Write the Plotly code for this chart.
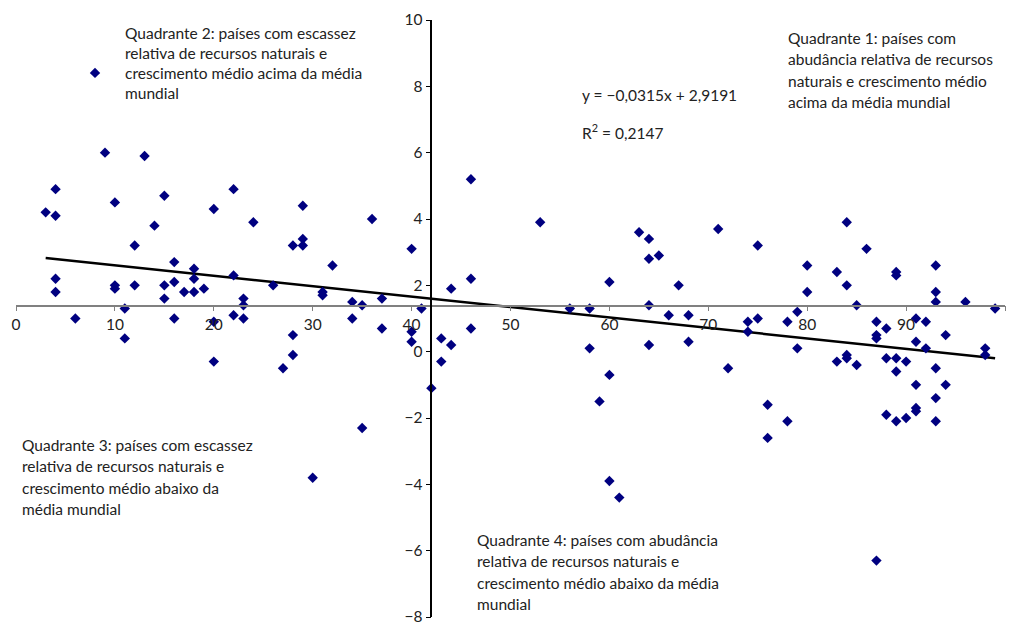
import plotly.graph_objects as go

# Data: x = relative natural-resource abundance index, y = average growth
x_vals = [3, 4, 4, 4, 4, 6, 9, 10, 10, 10, 11, 11, 12, 12, 13, 14, 15, 15, 15,
          16, 16, 16, 17, 18, 18, 18, 19, 20, 20, 20, 22, 22, 22, 23, 23, 23, 24,
          26, 27, 28, 28, 28, 29, 29, 29, 30, 31, 31, 32, 34, 34, 35, 35, 36, 37,
          37, 40, 40, 40, 41, 42, 43, 43, 44, 44, 46, 46, 46, 53, 56, 58, 58, 59,
          60, 60, 60, 61, 63, 64, 64, 64, 64, 65, 66, 67, 68, 68, 71, 72, 74, 74,
          75, 75, 76, 76, 78, 78, 79, 79, 80, 80, 83, 83, 84, 84, 84, 84, 85, 85,
          86, 87, 87, 87, 87, 88, 88, 88, 89, 89, 89, 89, 89, 90, 90, 91, 91, 91,
          91, 91, 92, 92, 93, 93, 93, 93, 93, 93, 94, 94, 96, 98, 98, 99]
y_vals = [4.2, 4.9, 4.1, 2.2, 1.8, 1.0, 6.0, 4.5, 2.0, 1.9, 1.3, 0.4, 3.2, 2.0, 5.9,
          3.8, 4.7, 2.0, 1.6, 2.7, 2.1, 1.0, 1.8, 2.5, 2.2, 1.8, 1.9, 4.3, 0.9, -0.3,
          4.9, 2.3, 1.1, 1.6, 1.4, 1.0, 3.9, 2.0, -0.5, 3.2, 0.5, -0.1, 4.4, 3.4, 3.2,
          -3.8, 1.8, 1.7, 2.6, 1.5, 1.0, 1.4, -2.3, 4.0, 1.6, 0.7, 3.1, 0.6, 0.3, 1.3,
          -1.1, 0.4, -0.3, 1.9, 0.2, 5.2, 2.2, 0.7, 3.9, 1.3, 1.3, 0.1, -1.5, 2.1, -0.7,
          -3.9, -4.4, 3.6, 3.4, 2.8, 1.4, 0.2, 2.9, 1.1, 2.0, 1.1, 0.3, 3.7, -0.5, 0.9,
          0.6, 3.2, 1.0, -1.6, -2.6, 0.9, -2.1, 1.2, 0.1, 2.6, 1.8, 2.4, -0.3, 3.9, 2.0,
          -0.1, -0.2, 1.4, -0.4, 3.1, 0.9, 0.5, 0.4, -6.3, 0.7, -0.2, -1.9, 2.4, 2.3,
          -0.2, -0.6, -2.1, -0.3, -2.0, 1.0, 0.3, -1.0, -1.7, -1.8, 0.9, 0.1, 2.6, 1.8,
          1.5, -0.5, -1.4, -2.1, 0.5, -1.0, 1.5, 0.1, -0.1, 1.3]

# Linear trend shown on the chart
slope = -0.0315
intercept = 2.9191
trend_x = [min(x_vals), max(x_vals)]
trend_y = [slope * v + intercept for v in trend_x]

# Axis crossing points (y axis at x=42, x axis at world average growth)
x_cross = 42
y_cross = 1.39
x_range = [0, 100]
y_range = [-8, 10]

legend_lines = ["Quadrante 2: países com escassez", "relativa de recursos naturais e",
                "crescimento médio acima da média", "mundial"]
q1_lines = ["Quadrante 1: países com", "abudância relativa de recursos",
            "naturais e crescimento médio", "acima da média mundial"]
q3_lines = ["Quadrante 3: países com escassez", "relativa de recursos naturais e",
            "crescimento médio abaixo da", "média mundial"]
q4_lines = ["Quadrante 4: países com abudância", "relativa de recursos naturais e",
            "crescimento médio abaixo da média", "mundial"]
eq_text = "y = −0,0315x + 2,9191"
r2_text = "R<sup>2</sup> = 0,2147"

FONT = "Lato"
TXT = "#222222"
FS = 15.5

W, H = 1015, 626
ML, MR, MT, MB = 16, 10, 20, 9
PW, PH = W - ML - MR, H - MT - MB


def px_to_paper(px, py):
    return (px - ML) / PW, (H - MB - py) / PH


LINE_STEP = 21.4
annotations = []


def add_block(lines, left, first_center):
    for i, line in enumerate(lines):
        xp, yp = px_to_paper(left, first_center + i * LINE_STEP)
        annotations.append(dict(text=line, xref="paper", yref="paper", x=xp, y=yp,
                                xanchor="left", yanchor="middle", align="left",
                                showarrow=False))


add_block(q1_lines, 786, 38)
add_block(q3_lines, 20, 445)
add_block(q4_lines, 475, 540)
add_block([eq_text], 580, 95)
add_block([r2_text], 580, 131)

fig = go.Figure()
fig.add_trace(go.Scatter(
    x=trend_x, y=trend_y, mode="lines",
    line=dict(color="black", width=2.5), showlegend=False, hoverinfo="skip"))
# trailing blank line lowers the legend symbol like in the reference
fig.add_trace(go.Scatter(
    x=x_vals, y=y_vals, mode="markers", name="<br>".join(legend_lines + [" "]),
    marker=dict(symbol="diamond", size=8, color="#000080"), showlegend=True))

leg_x, leg_y = px_to_paper(65, 16)
fig.update_layout(
    width=W, height=H,
    margin=dict(l=ML, r=MR, t=MT, b=MB),
    paper_bgcolor="white", plot_bgcolor="white",
    font=dict(family=FONT, size=FS, color=TXT),
    legend=dict(x=leg_x, y=leg_y, xanchor="left", yanchor="top",
                bgcolor="rgba(0,0,0,0)", font=dict(family=FONT, size=FS, color=TXT),
                valign="middle", itemwidth=50),
    xaxis=dict(range=x_range, dtick=10, tick0=0, anchor="free",
               position=(y_cross - y_range[0]) / (y_range[1] - y_range[0]),
               showline=True, linecolor="#808080", linewidth=1.5,
               ticks="outside", ticklen=5, tickcolor="#808080",
               showgrid=False, zeroline=False, automargin=False,
               tickfont=dict(family=FONT, size=FS, color=TXT)),
    yaxis=dict(range=y_range, dtick=2, tick0=0, anchor="free",
               position=(x_cross - x_range[0]) / (x_range[1] - x_range[0]),
               showline=True, linecolor="black", linewidth=1.5,
               ticks="outside", ticklen=5, tickcolor="black",
               showgrid=False, zeroline=False, automargin=False,
               tickfont=dict(family=FONT, size=FS, color=TXT)),
    annotations=annotations,
)

fig.write_html("out.html", config={"displayModeBar": False},
               post_script="document.body.style.margin='0';")
